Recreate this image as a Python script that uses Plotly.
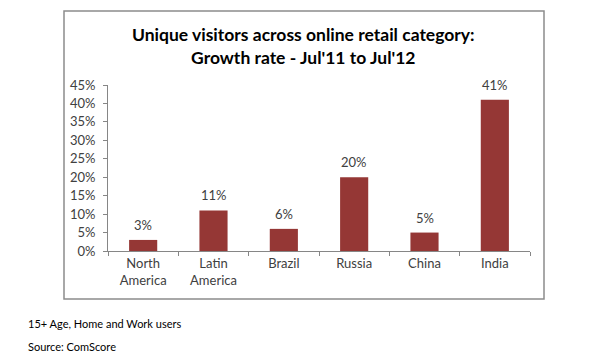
import plotly.graph_objects as go

categories = ["North<br>America", "Latin<br>America", "Brazil", "Russia", "China", "India"]
growth = [0.03, 0.11, 0.06, 0.20, 0.05, 0.41]
labels = ["3%", "11%", "6%", "20%", "5%", "41%"]
y_ticks = [0, 0.05, 0.10, 0.15, 0.20, 0.25, 0.30, 0.35, 0.40, 0.45]
y_tick_text = ["0%", "5%", "10%", "15%", "20%", "25%", "30%", "35%", "40%", "45%"]

OFF = 8  # page body margin
W, H = 589 - OFF, 356 - OFF
L, T = 108 - OFF, 85 - OFF
R = W - (530 - OFF)
B = H - (251 - OFF)
pw = W - L - R
ph = H - T - B

def px_x(x):
    return (x - OFF - L) / pw

def px_y(y):
    return (H - B - (y - OFF)) / ph

FONT = "Lato"
TXT = "#404040"

fig = go.Figure()
fig.add_trace(go.Bar(
    x=categories, y=growth, marker_color="#953735",
    marker_line_width=0, width=0.4,
))

for c, v, t in zip(categories, growth, labels):
    fig.add_annotation(x=c, y=v, text=t, showarrow=False, yanchor="bottom",
                       yshift=5, font=dict(family=FONT, size=13, color=TXT))

fig.add_shape(type="rect", xref="paper", yref="paper",
              x0=px_x(64), x1=px_x(544), y0=px_y(299), y1=px_y(11),
              line=dict(color="#8c8c8c", width=1.5), fillcolor="rgba(0,0,0,0)")

fig.add_annotation(xref="paper", yref="paper", x=px_x(303), y=px_y(46),
                   text="<b>Unique visitors across online retail category:<br>Growth rate - Jul'11 to Jul'12</b>",
                   showarrow=False, xanchor="center", yanchor="middle",
                   font=dict(family=FONT, size=17.5, color="#000000"))

fig.add_annotation(xref="paper", yref="paper", x=px_x(26), y=px_y(323),
                   text="15+ Age, Home and Work users", showarrow=False,
                   xanchor="left", yanchor="middle",
                   font=dict(family=FONT, size=11, color="#000000"))
fig.add_annotation(xref="paper", yref="paper", x=px_x(26), y=px_y(346),
                   text="Source: ComScore", showarrow=False,
                   xanchor="left", yanchor="middle",
                   font=dict(family=FONT, size=11, color="#000000"))

fig.update_layout(
    width=W, height=H,
    margin=dict(l=L, r=R, t=T, b=B, pad=0),
    paper_bgcolor="white", plot_bgcolor="white",
    showlegend=False,
    font=dict(family=FONT, size=13, color=TXT),
    bargap=0.6,
)
fig.update_xaxes(
    showline=True, linecolor="#868686", linewidth=1,
    ticks="outside", tickson="boundaries", ticklen=4, tickcolor="#868686",
    showgrid=False, tickfont=dict(family=FONT, size=13, color=TXT),
)
fig.update_yaxes(
    range=[0, 0.45], tickvals=y_ticks, ticktext=y_tick_text,
    showline=True, linecolor="#868686", linewidth=1,
    ticks="outside", ticklen=4, tickcolor="#868686", ticklabelstandoff=5,
    showgrid=False, zeroline=False,
    tickfont=dict(family=FONT, size=13, color=TXT),
)

fig.write_html("out.html")
